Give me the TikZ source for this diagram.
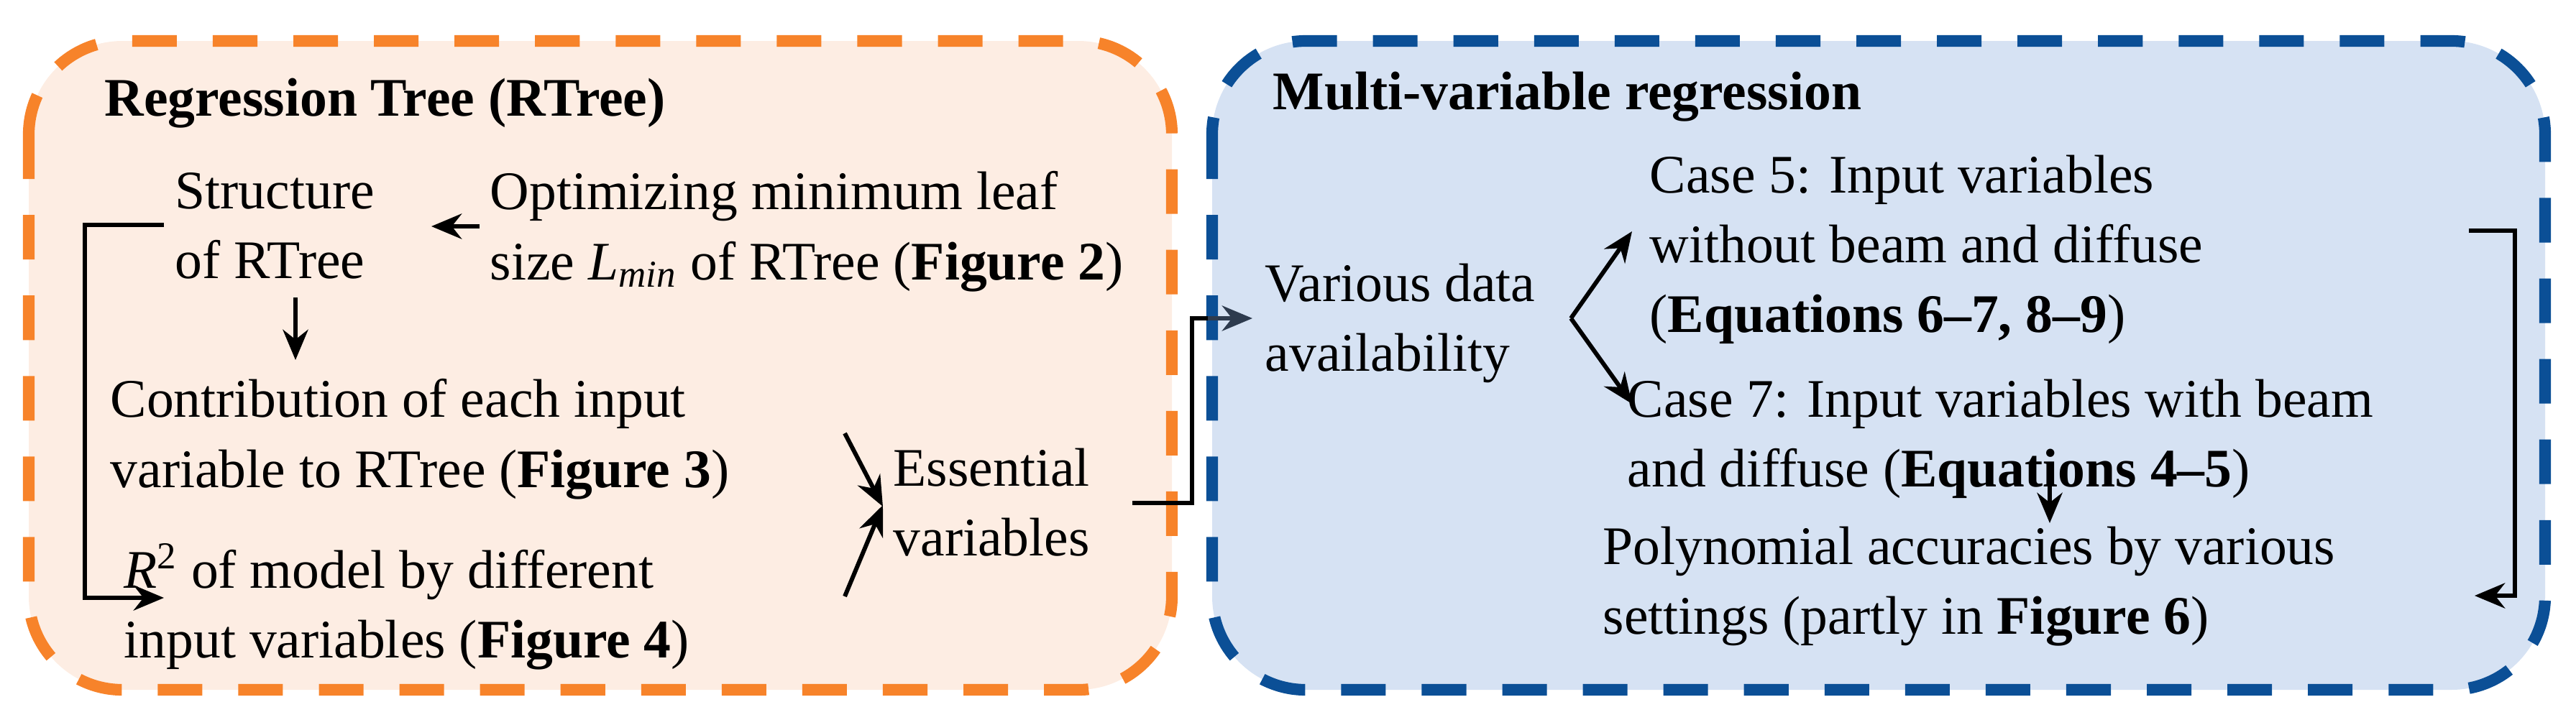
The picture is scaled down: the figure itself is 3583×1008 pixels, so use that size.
\documentclass[tikz,border=0pt]{standalone}
\usepackage{fontspec}
\setmainfont{Liberation Serif}
\usetikzlibrary{arrows.meta}
\definecolor{rtline}{HTML}{F7832A}
\definecolor{rtfill}{HTML}{FDEDE3}
\definecolor{mvline}{HTML}{0B4F96}
\definecolor{mvfill}{HTML}{D6E2F3}
\definecolor{slate}{HTML}{2E3B4E}

\begin{document}
\begin{tikzpicture}[
		x=0.01cm, y=-0.01cm,
		>={Stealth[length=12pt,width=10pt]},
		arr/.style={->,line width=1.7pt,black},
		frame/.style={line width=4.6pt,rounded corners=1.3cm,dash pattern=on 0.62cm off 0.5cm},
		txt/.style={anchor=north west,inner sep=0pt,align=left,font=\fontsize{21.5}{27.6}\selectfont},
		head/.style={txt,font=\fontsize{21.5}{27.6}\selectfont\bfseries}
	]
		\useasboundingbox (0,0) rectangle (3583,1008);

		% Frames
		\draw[frame,draw=rtline,fill=rtfill] (40,57) rectangle (1630,960);
		\draw[frame,draw=mvline,fill=mvfill] (1686,57) rectangle (3540,960);

		% Regression tree
		\node[head] (title1) at (145,108) {Regression Tree (RTree)};
		\node[txt] (struct) at (243,240) {Structure\\of RTree};
		\node[txt] (optim) at (681,238) {Optimizing minimum leaf\\size \textit{L}\textsubscript{\textit{min}} of RTree (\textbf{Figure 2})};
		\node[txt] (contrib) at (153,527) {Contribution of each input\\variable to RTree (\textbf{Figure 3})};
		\node[txt] (rsq) at (172,756) {\textit{R}\textsuperscript{2} of model by different\\input variables (\textbf{Figure 4})};
		\node[txt] (essen) at (1242,623) {Essential\\variables};

		% Multi-variable regression
		\node[head] (title2) at (1770,99) {Multi-variable regression};
		\node[txt] (various) at (1759,366) {Various data\\availability};
		\node[txt] (case5) at (2294,215) {Case 5: Input variables\\without beam and diffuse\\(\textbf{Equations 6--7, 8--9})};
		\node[txt] (case7) at (2263,527) {Case 7: Input variables with beam\\and diffuse (\textbf{Equations 4--5})};
		\node[txt] (poly) at (2229,732) {Polynomial accuracies by various\\settings (partly in \textbf{Figure 6})};

		% Bends
		\coordinate (k1) at (118,313);
		\coordinate (k2) at (1658,700);
		\coordinate (k3) at (2185,443);
		\coordinate (k4) at (3498,321);
		\coordinate (e1) at (1175,603);
		\coordinate (e2) at (1175,830);

		% Connectors
		\draw[arr] (667,315) -- (600,315);
		\draw[arr] (411,414) -- (411,501);
		\draw[arr] (228,313) -- (k1) |- (228,832);
		\draw[arr] (e1) -- (1228,705);
		\draw[arr] (e2) -- (1228,703);
		\draw[line width=1.7pt] (1575,700) -- (k2) |- (1680,443);
		\draw[->,line width=1.7pt,slate] (1680,443) -- (1742,443);
		\draw[arr] (k3) -- (2270,322);
		\draw[arr] (k3) -- (2270,562);
		\draw[arr] (2851,662) -- (2851,728);
		\draw[arr] (3434,321) -- (k4) |- (3442,829);
\end{tikzpicture}
\end{document}
